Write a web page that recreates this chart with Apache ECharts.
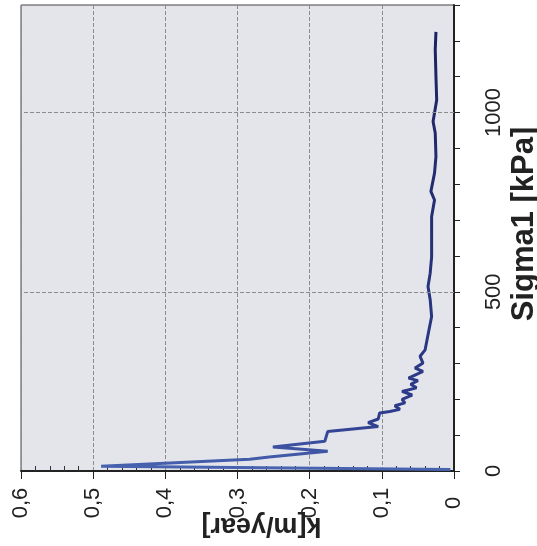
<!DOCTYPE html>
<html>
<head>
<meta charset="utf-8">
<script src="https://cdn.jsdelivr.net/npm/echarts@6/dist/echarts.min.js"></script>
<style>
html,body{margin:0;padding:0;background:#fff;}
#c{width:537px;height:546px;}
</style>
</head>
<body>
<div id="c"></div>
<script>
// Sigma1 [kPa] values along the measured curve
const sigmaValues = [4, 13, 33, 39, 55, 67, 83, 110, 124, 135, 145, 162, 166,
  172, 182, 190, 200, 212, 222, 232, 242, 252, 259,
  278, 287, 301, 320, 338, 380, 431, 478, 515, 552, 598, 663, 710, 756, 780,
  831, 877, 943, 975, 1035, 1100, 1175, 1225];
// k [m/year] values at those stresses
const kValues = [0.005, 0.489, 0.283, 0.256, 0.175, 0.251, 0.179, 0.175, 0.105, 0.119, 0.105, 0.103, 0.089,
  0.075, 0.082, 0.068, 0.072, 0.058, 0.072, 0.052, 0.060, 0.050, 0.063,
  0.043, 0.054, 0.043, 0.047, 0.040, 0.036, 0.031, 0.033, 0.036, 0.033, 0.031, 0.031, 0.031, 0.027, 0.032,
  0.027, 0.025, 0.026, 0.029, 0.024, 0.025, 0.026, 0.025];
const sigmaGridLines = [500, 1000];
const sigmaLabelStep = 500;

const FONT = 'Liberation Sans, Arial, sans-serif';
const chart = echarts.init(document.getElementById('c'), null, {renderer: 'canvas'});
const option = {
  backgroundColor: '#ffffff',
  animation: false,
  grid: {left: 21, right: 83, top: 5, bottom: 75, show: true, containLabel: false,
    outerBoundsMode: 'none',
    backgroundColor: '#e3e5ea', borderColor: '#444', borderWidth: 1},
  xAxis: {
    type: 'value', min: 0, max: 0.6, interval: 0.1, inverse: true, position: 'bottom',
    name: 'k[m/year]', nameLocation: 'middle', nameGap: 41, nameRotate: 180, nameMoveOverlap: false,
    nameTextStyle: {fontSize: 27, fontWeight: 'bold', color: '#222', fontFamily: FONT,
      padding: [0, 48, 0, 0]},
    axisLine: {show: true, onZero: false, lineStyle: {color: '#222', width: 2}},
    axisTick: {show: true, length: 8, lineStyle: {color: '#222', width: 1}},
    minorTick: {show: true, splitNumber: 5, length: -5, lineStyle: {color: '#333', width: 1}},
    axisLabel: {rotate: 90, margin: 32, align: 'center', verticalAlign: 'middle',
      fontSize: 22, color: '#222', fontFamily: FONT,
      formatter: v => (Math.abs(v) < 1e-9 ? '0' : v.toFixed(1).replace('.', ','))},
    splitLine: {show: true, lineStyle: {type: 'dashed', color: '#8c8c8c', width: 1}}
  },
  yAxis: {
    type: 'value', min: 0, max: 1300, interval: 100, position: 'right',
    name: 'Sigma1 [kPa]', nameLocation: 'middle', nameGap: 55, nameRotate: 90, nameMoveOverlap: false,
    nameTextStyle: {fontSize: 31, fontWeight: 'bold', color: '#222', fontFamily: FONT,
      padding: [0, 0, 0, 28]},
    axisLine: {show: true, onZero: false, lineStyle: {color: '#222', width: 2}},
    axisTick: {show: true, length: 6, lineStyle: {color: '#222', width: 1}},
    axisLabel: {rotate: 90, margin: 40, align: 'center', verticalAlign: 'middle',
      fontSize: 22, color: '#222', fontFamily: FONT,
      formatter: v => (v % sigmaLabelStep === 0 ? String(v) : '')},
    splitLine: {show: false}
  },
  series: [{
    type: 'line',
    data: kValues.map((k, i) => [k, sigmaValues[i]]),
    symbol: 'none',
    lineStyle: {width: 3, color: new echarts.graphic.LinearGradient(0, 1, 0, 0, [
      {offset: 0, color: '#4a66b3'}, {offset: 0.12, color: '#2d3c8c'}, {offset: 1, color: '#1b225e'}])},
    markLine: {
      silent: true, symbol: ['none', 'none'], label: {show: false},
      lineStyle: {type: 'dashed', color: '#8c8c8c', width: 1},
      data: sigmaGridLines.map(s => ({yAxis: s}))
    }
  }]
};
chart.setOption(option);
</script>
</body>
</html>
